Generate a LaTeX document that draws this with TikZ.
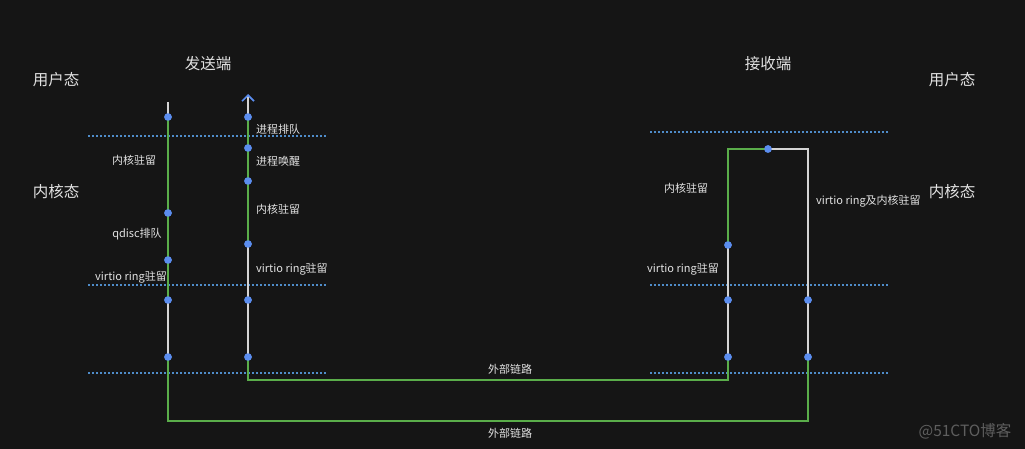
\documentclass[tikz,border=0pt]{standalone}
\usepackage{fontspec}
\setmainfont{Noto Sans CJK SC}
\usetikzlibrary{arrows.meta}
\definecolor{bg}{HTML}{151515}
\definecolor{grn}{HTML}{5AAD4A}
\definecolor{gry}{HTML}{D4D4D4}
\definecolor{dotblue}{HTML}{5B8DEF}
\definecolor{sepblue}{HTML}{4F8CC9}
\definecolor{txt}{HTML}{E2E2E2}
\definecolor{wm}{HTML}{5E5E5E}
\begin{document}
\begin{tikzpicture}[x=1pt,y=-1pt,
  dot/.style={circle,fill=dotblue,inner sep=0pt,minimum size=7.5pt},
  gline/.style={draw=grn,line width=2.2pt},
  wline/.style={draw=gry,line width=2.2pt},
  sep/.style={draw=sepblue,line width=1.6pt,dash pattern=on 1.8pt off 2.2pt},
  big/.style={text=txt,font=\fontsize{15.5}{18}\selectfont,inner sep=0pt},
  small/.style={text=txt,font=\fontsize{11}{13}\selectfont,inner sep=0pt}]
\fill[bg] (0,0) rectangle (1025,449);
\useasboundingbox (0,0) rectangle (1025,449);
% separators
\coordinate (s1a) at (88,136); \coordinate (s1b) at (327,136);
\coordinate (s2a) at (88,285); \coordinate (s2b) at (327,285);
\coordinate (s3a) at (88,373); \coordinate (s3b) at (327,373);
\coordinate (s4a) at (650,132); \coordinate (s4b) at (888,132);
\coordinate (s5a) at (650,285); \coordinate (s5b) at (888,285);
\coordinate (s6a) at (650,373); \coordinate (s6b) at (888,373);
\draw[sep] (s1a) -- (s1b); \draw[sep] (s2a) -- (s2b); \draw[sep] (s3a) -- (s3b);
\draw[sep] (s4a) -- (s4b); \draw[sep] (s5a) -- (s5b); \draw[sep] (s6a) -- (s6b);
% points
\coordinate (atop) at (168,102);
\node[dot] (a1) at (168,117) {};
\node[dot] (a2) at (168,213) {};
\node[dot] (a3) at (168,260) {};
\node[dot] (a4) at (168,300) {};
\node[dot] (a5) at (168,357) {};
\coordinate (c1) at (168,421);
\coordinate (c2) at (808,421);
\node[dot] (d1) at (808,357) {};
\node[dot] (d2) at (808,300) {};
\coordinate (c3) at (808,149);
\node[dot] (e) at (768,149) {};
\coordinate (c4) at (728,149);
\node[dot] (f1) at (728,245) {};
\node[dot] (f2) at (728,300) {};
\node[dot] (f3) at (728,357) {};
\coordinate (c5) at (728,380);
\coordinate (c6) at (248,380);
\node[dot] (b1) at (248,357) {};
\node[dot] (b2) at (248,300) {};
\node[dot] (b3) at (248,244) {};
\node[dot] (b4) at (248,181) {};
\node[dot] (b5) at (248,148) {};
\node[dot] (b6) at (248,117) {};
\coordinate (btip) at (248,94);
% paths
\draw[wline] (atop) -- (a1.center);
\draw[gline] (a1.center) -- (a4.center);
\draw[wline] (a4.center) -- (a5.center);
\draw[gline,line join=miter] (a5.center) -- (c1) -- (c2) -- (d1.center);
\draw[wline,line join=miter] (d1.center) -- (c3) -- (e.center);
\draw[gline,line join=miter] (e.center) -- (c4) -- (f1.center);
\draw[wline] (f1.center) -- (f3.center);
\draw[gline,line join=miter] (f3.center) -- (c5) -- (c6) -- (b1.center);
\draw[wline] (b1.center) -- (b3.center);
\draw[gline] (b3.center) -- (b6.center);
\draw[wline,-{Straight Barb[color=dotblue,length=6pt,width=12pt,line width=1.6pt]}] (b6.center) -- (btip);
% dots on top of the lines
\foreach \p in {a1,a2,a3,a4,a5,b1,b2,b3,b4,b5,b6,d1,d2,e,f1,f2,f3}
  \fill[dotblue] (\p.center) circle (3.75pt);
% big labels
\node[big] (u1) at (56,79.5) {用户态};
\node[big] (k1) at (56,191.5) {内核态};
\node[big] (u2) at (952,79.5) {用户态};
\node[big] (k2) at (952,191.5) {内核态};
\node[big] (snd) at (208,63.5) {发送端};
\node[big] (rcv) at (768,63.5) {接收端};
% small labels
\node[small] (l1) at (134,160.5) {内核驻留};
\node[small] (l2) at (137,234.5) {qdisc排队};
\node[small] (l3) at (131,277.5) {virtio ring驻留};
\node[small,anchor=west] (l4) at (256,129.5) {进程排队};
\node[small,anchor=west] (l5) at (256,161.5) {进程唤醒};
\node[small,anchor=west] (l6) at (256,209.5) {内核驻留};
\node[small,anchor=west] (l7) at (256,269.5) {virtio ring驻留};
\node[small] (l8) at (510,369.5) {外部链路};
\node[small] (l9) at (510,433.5) {外部链路};
\node[small] (r1) at (686,188.5) {内核驻留};
\node[small] (r2) at (683,269.5) {virtio ring驻留};
\node[small,anchor=west] (r3) at (816,201.5) {virtio ring及内核驻留};
\node[text=wm,font=\fontsize{15.5}{18}\selectfont,inner sep=0pt] (wmk) at (965,431) {@51CTO博客};
\end{tikzpicture}
\end{document}
